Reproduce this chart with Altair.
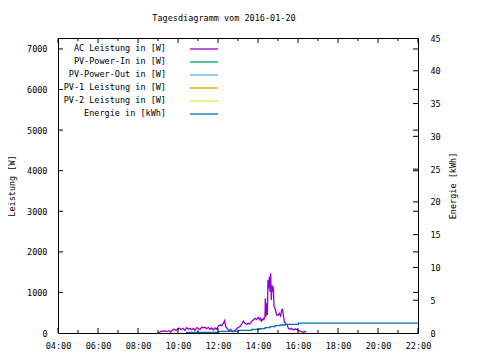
import altair as alt
import pandas as pd

# ---- data ----
ac_time = ["09:00","09:04","09:08","09:21","09:26","09:34","09:38","09:44","09:48","09:54","09:58",
           "10:04","10:09","10:14","10:21","10:26","10:31","10:36","10:41","10:46","10:51","10:56",
           "11:01","11:06","11:11","11:16","11:21","11:26","11:31","11:36","11:41","11:46","11:51","11:56",
           "12:01","12:06","12:11","12:16","12:20","12:23","12:28","12:33","12:38","12:44","12:51","12:56",
           "13:01","13:06","13:11","13:16","13:21","13:26","13:31","13:36","13:41","13:46","13:51","13:56",
           "14:01","14:06","14:08","14:11","14:16","14:18","14:21","14:22","14:24","14:26","14:28","14:30",
           "14:32","14:34","14:36","14:38","14:40","14:42","14:44","14:46","14:48","14:51","14:56",
           "15:01","15:04","15:08","15:11","15:14","15:16","15:19","15:23","15:28","15:31","15:36","15:41",
           "15:46","15:51","15:56","16:01","16:06","16:11","16:16","16:21","16:24"]
ac_watt = [0,8,41,49,33,57,25,74,98,57,90,
           123,82,115,66,131,98,115,82,115,66,131,
           115,82,140,131,140,107,140,90,123,74,123,90,
           172,197,181,238,304,156,107,57,90,33,57,107,
           140,160,222,290,238,213,238,222,290,320,361,330,
           386,325,361,296,361,337,402,854,402,731,443,1305,
           1100,1387,1018,1470,813,1182,1018,1141,649,608,443,
           443,484,419,567,583,443,279,238,197,115,90,115,
           74,98,90,57,49,33,16,41,16]

en_time = ["10:24","12:01","13:01","13:41","14:06","14:21","14:36","14:51","15:06","15:21","16:01","22:00"]
en_kwh = [0.1,0.25,0.4,0.55,0.66,0.81,0.96,1.11,1.22,1.32,1.5,1.5]

legend_labels = ["AC Leistung in [W]","PV-Power-In in [W]","PV-Power-Out in [W]",
                 "PV-1 Leistung in [W]","PV-2 Leistung in [W]","Energie in [kWh]"]
legend_colors = ["#9400d3","#009e73","#56b4e9","#e69f00","#f0e442","#0072b2"]

x_major = [4,6,8,10,12,14,16,18,20,22]
x_minor = [5,7,9,11,13,15,17,19,21]
y1_ticks = [0,1000,2000,3000,4000,5000,6000,7000]
y2_ticks = [0,5,10,15,20,25,30,35,40,45]

title_text = "Tagesdiagramm vom 2016-01-20"

def to_h(t):
    h, m = t.split(":")
    return int(h) + int(m) / 60.0

ac_df = pd.DataFrame({"h": [to_h(t) for t in ac_time], "W": ac_watt})
en_df = pd.DataFrame({"h": [to_h(t) for t in en_time], "kWh": en_kwh})

FONT = "DejaVu Sans Mono"
FS = 8.5
W, H = 360, 295
LW = 1.3

xscale = alt.Scale(domain=[4, 22], nice=False, zero=False)
y1scale = alt.Scale(domain=[0, 7270], nice=False)
y2scale = alt.Scale(domain=[0, 45], nice=False)

label_expr = "(datum.value < 10 ? '0' : '') + datum.value + ':00'"

ac_line = alt.Chart(ac_df).mark_line(color="#9400d3", strokeWidth=LW).encode(
    x=alt.X("h:Q", scale=xscale, axis=alt.Axis(values=x_major, labelExpr=label_expr, title=None,
                                                ticks=False, domain=False, grid=False, labelFlush=False,
                                                labelOverlap=False,
                                                labelPadding=8, labelFont=FONT, labelFontSize=FS,
                                                labelColor="black")),
    y=alt.Y("W:Q", scale=y1scale, axis=alt.Axis(values=y1_ticks, format="d", title="Leistung [W]",
                                                 ticks=False, domain=False, grid=False, labelPadding=11,
                                                 labelFlush=False,
                                                 labelFont=FONT, labelFontSize=FS, labelColor="black",
                                                 titleFont=FONT, titleFontSize=FS, titleFontWeight="normal",
                                                 titleColor="black", titleAngle=270, titleX=-47,
                                                 titleY=H / 2, titleAlign="center", titleBaseline="middle")),
)

en_line = alt.Chart(en_df).mark_line(color="#0072b2", strokeWidth=LW, interpolate="step-after").encode(
    x=alt.X("h:Q", scale=xscale, axis=None),
    y=alt.Y("kWh:Q", scale=y2scale, axis=alt.Axis(orient="right", values=y2_ticks, format="d",
                                                   title="Energie [kWh]", labelFlush=False,
                                                   ticks=False, domain=False, grid=False, labelPadding=12,
                                                   labelFont=FONT, labelFontSize=FS, labelColor="black",
                                                   titleFont=FONT, titleFontSize=FS, titleFontWeight="normal",
                                                   titleColor="black", titleAngle=270, titleX=34,
                                                   titleY=H / 2, titleAlign="center", titleBaseline="middle")),
)

tx = pd.DataFrame({"h": x_major})
tm = pd.DataFrame({"h": x_minor})
ty1 = pd.DataFrame({"W": y1_ticks[1:]})
ty2 = pd.DataFrame({"kWh": y2_ticks[1:-1]})

def xt(df, y0, y1):
    return alt.Chart(df).mark_rule(color="black", strokeWidth=1).encode(
        x=alt.X("h:Q", scale=xscale, axis=None), y=alt.value(y0), y2=alt.value(y1))

def yt(df, field, sc, x0, x1):
    return alt.Chart(df).mark_rule(color="black", strokeWidth=1).encode(
        y=alt.Y(field, scale=sc, axis=None), x=alt.value(x0), x2=alt.value(x1))

helpers = [xt(tx, H, H - 5), xt(tx, 0, 5), xt(tm, H, H - 3), xt(tm, 0, 3),
           yt(ty1, "W:Q", y1scale, 0, 5), yt(ty1, "W:Q", y1scale, W, W - 5),
           yt(ty2, "kWh:Q", y2scale, W, W - 5)]

for i, (lab, col) in enumerate(zip(legend_labels, legend_colors)):
    yy = 10 + i * 13
    helpers.append(alt.Chart(pd.DataFrame({"t": [lab]})).mark_text(
        align="right", baseline="middle", font=FONT, fontSize=FS, color="black").encode(
        text="t:N", x=alt.value(108), y=alt.value(yy)))
    helpers.append(alt.Chart(pd.DataFrame({"c": [col]})).mark_rule(
        color=col, strokeWidth=LW).encode(x=alt.value(132), x2=alt.value(160), y=alt.value(yy + 1)))

helpers.append(alt.Chart(pd.DataFrame({"t": [title_text]})).mark_text(
    align="center", baseline="middle", font=FONT, fontSize=FS, color="black").encode(
    text="t:N", x=alt.value(166), y=alt.value(-20)))

chart = alt.layer(ac_line, en_line, *helpers).resolve_scale(y="independent").resolve_axis(
    x="independent").properties(
    width=W, height=H,
    padding={"left": 50, "top": 30, "right": 54, "bottom": 19},
    autosize=alt.AutoSizeParams(type="none"),
    background="white",
).configure_view(stroke="black", strokeWidth=1)

chart.save("out.html", embed_options={"renderer": "svg", "actions": False})
